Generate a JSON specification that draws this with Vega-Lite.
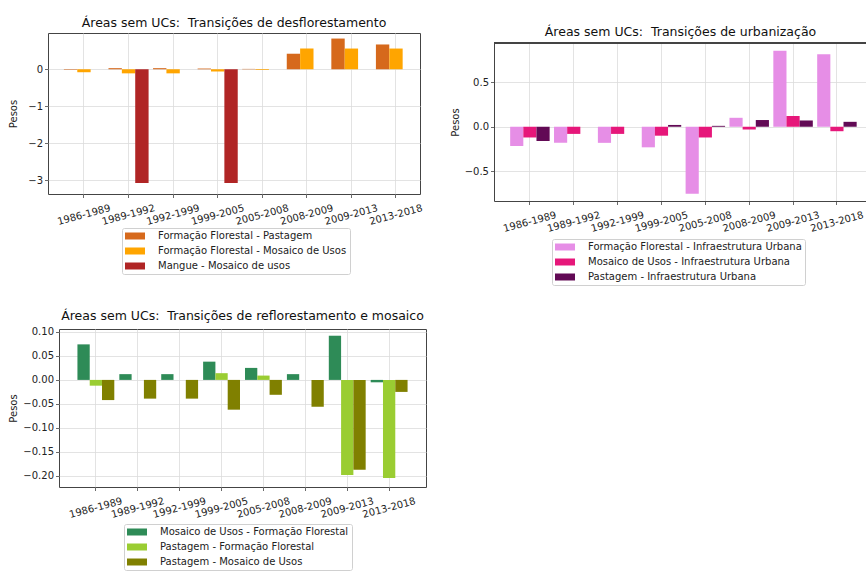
{
  "$schema": "https://vega.github.io/schema/vega-lite/v6.json",
  "background": "white",
  "padding": {"left": 8, "top": 16, "right": 0, "bottom": 0},
  "config": {
    "font": "DejaVu Sans",
    "view": {"stroke": "#444", "strokeWidth": 1},
    "title": {"font": "DejaVu Sans", "fontSize": 12.5, "fontWeight": "normal", "color": "#111", "offset": 4},
    "axis": {
      "labelFont": "DejaVu Sans", "labelFontSize": 10, "labelColor": "#222",
      "titleFont": "DejaVu Sans", "titleFontSize": 10, "titleFontWeight": "normal", "titleColor": "#222",
      "grid": true, "gridColor": "#dcdcdc", "gridWidth": 0.8,
      "domain": false, "tickColor": "#444", "tickSize": 3.5, "tickWidth": 0.8,
      "labelOverlap": false
    },
    "axisX": {"labelAngle": -15, "labelAlign": "center", "labelBaseline": "middle", "labelPadding": 17},
    "axisY": {"labelPadding": 2, "titlePadding": 4},
    "legend": {
      "orient": "none", "title": null,
      "symbolType": "M-2,-0.7H2V0.7H-2Z", "symbolSize": 100, "symbolStrokeWidth": 0, "symbolOffset": 5,
      "labelFont": "DejaVu Sans", "labelFontSize": 10, "labelColor": "#222", "labelOffset": 18, "labelLimit": 0,
      "padding": 3, "rowPadding": 5,
      "strokeColor": "#d0d0d0", "fillColor": "white", "cornerRadius": 2
    }
  },
  "vconcat": [
    {
      "hconcat": [
        {
          "width": 372, "height": 161,
          "title": {"text": "Áreas sem UCs:\u00a0 Transições de desflorestamento"},
          "data": {"values": [
            {"periodo": "1986-1989", "serie": "Formação Florestal - Pastagem", "peso": -0.01},
            {"periodo": "1986-1989", "serie": "Formação Florestal - Mosaico de Usos", "peso": -0.08},
            {"periodo": "1986-1989", "serie": "Mangue - Mosaico de usos", "peso": 0},
            {"periodo": "1989-1992", "serie": "Formação Florestal - Pastagem", "peso": 0.03},
            {"periodo": "1989-1992", "serie": "Formação Florestal - Mosaico de Usos", "peso": -0.11},
            {"periodo": "1989-1992", "serie": "Mangue - Mosaico de usos", "peso": -3.07},
            {"periodo": "1992-1999", "serie": "Formação Florestal - Pastagem", "peso": 0.03},
            {"periodo": "1992-1999", "serie": "Formação Florestal - Mosaico de Usos", "peso": -0.11},
            {"periodo": "1992-1999", "serie": "Mangue - Mosaico de usos", "peso": 0},
            {"periodo": "1999-2005", "serie": "Formação Florestal - Pastagem", "peso": 0.02},
            {"periodo": "1999-2005", "serie": "Formação Florestal - Mosaico de Usos", "peso": -0.06},
            {"periodo": "1999-2005", "serie": "Mangue - Mosaico de usos", "peso": -3.07},
            {"periodo": "2005-2008", "serie": "Formação Florestal - Pastagem", "peso": 0.01},
            {"periodo": "2005-2008", "serie": "Formação Florestal - Mosaico de Usos", "peso": -0.02},
            {"periodo": "2005-2008", "serie": "Mangue - Mosaico de usos", "peso": 0},
            {"periodo": "2008-2009", "serie": "Formação Florestal - Pastagem", "peso": 0.42},
            {"periodo": "2008-2009", "serie": "Formação Florestal - Mosaico de Usos", "peso": 0.56},
            {"periodo": "2008-2009", "serie": "Mangue - Mosaico de usos", "peso": 0},
            {"periodo": "2009-2013", "serie": "Formação Florestal - Pastagem", "peso": 0.83},
            {"periodo": "2009-2013", "serie": "Formação Florestal - Mosaico de Usos", "peso": 0.56},
            {"periodo": "2009-2013", "serie": "Mangue - Mosaico de usos", "peso": 0},
            {"periodo": "2013-2018", "serie": "Formação Florestal - Pastagem", "peso": 0.67},
            {"periodo": "2013-2018", "serie": "Formação Florestal - Mosaico de Usos", "peso": 0.56},
            {"periodo": "2013-2018", "serie": "Mangue - Mosaico de usos", "peso": 0}
          ]},
          "mark": {"type": "bar"},
          "encoding": {
            "x": {"field": "periodo", "type": "nominal", "sort": null, "title": null,
                  "scale": {"paddingInner": 0.1, "paddingOuter": 0.223, "align": 0.8}},
            "xOffset": {"field": "serie", "type": "nominal", "sort": ["Formação Florestal - Pastagem", "Formação Florestal - Mosaico de Usos", "Mangue - Mosaico de usos"], "scale": {"paddingInner": 0, "paddingOuter": 0}},
            "y": {"field": "peso", "type": "quantitative",
                  "scale": {"domain": [-3.37, 0.98], "nice": false},
                  "axis": {"title": "Pesos", "titlePadding": 9, "values": [-3, -2, -1, 0], "labelExpr": "replace(format(datum.value, '.0f'), '-', '\u2212')"}},
            "color": {"field": "serie", "type": "nominal",
                      "scale": {"domain": ["Formação Florestal - Pastagem", "Formação Florestal - Mosaico de Usos", "Mangue - Mosaico de usos"], "range": ["#d6691c", "#ffa500", "#b02525"]},
                      "legend": {"legendX": 74, "legendY": 195}}
          }
        },
        {
          "vconcat": [
            {
              "width": 1, "height": 1,
              "view": {"stroke": null},
              "data": {"values": [{"periodo": "", "peso": 0}]},
              "mark": {"type": "point", "opacity": 0},
              "encoding": {}
            },
            {
              "width": 373, "height": 158,
              "title": {"text": "Áreas sem UCs:\u00a0 Transições de urbanização"},
              "view": {"stroke": null},
              "data": {"values": [
                {"periodo": "1986-1989", "serie": "Formação Florestal - Infraestrutura Urbana", "peso": -0.215},
                {"periodo": "1986-1989", "serie": "Mosaico de Usos - Infraestrutura Urbana", "peso": -0.12},
                {"periodo": "1986-1989", "serie": "Pastagem - Infraestrutura Urbana", "peso": -0.16},
                {"periodo": "1989-1992", "serie": "Formação Florestal - Infraestrutura Urbana", "peso": -0.18},
                {"periodo": "1989-1992", "serie": "Mosaico de Usos - Infraestrutura Urbana", "peso": -0.08},
                {"periodo": "1989-1992", "serie": "Pastagem - Infraestrutura Urbana", "peso": 0},
                {"periodo": "1992-1999", "serie": "Formação Florestal - Infraestrutura Urbana", "peso": -0.18},
                {"periodo": "1992-1999", "serie": "Mosaico de Usos - Infraestrutura Urbana", "peso": -0.08},
                {"periodo": "1992-1999", "serie": "Pastagem - Infraestrutura Urbana", "peso": 0},
                {"periodo": "1999-2005", "serie": "Formação Florestal - Infraestrutura Urbana", "peso": -0.23},
                {"periodo": "1999-2005", "serie": "Mosaico de Usos - Infraestrutura Urbana", "peso": -0.1},
                {"periodo": "1999-2005", "serie": "Pastagem - Infraestrutura Urbana", "peso": 0.02},
                {"periodo": "2005-2008", "serie": "Formação Florestal - Infraestrutura Urbana", "peso": -0.75},
                {"periodo": "2005-2008", "serie": "Mosaico de Usos - Infraestrutura Urbana", "peso": -0.12},
                {"periodo": "2005-2008", "serie": "Pastagem - Infraestrutura Urbana", "peso": 0.01},
                {"periodo": "2008-2009", "serie": "Formação Florestal - Infraestrutura Urbana", "peso": 0.1},
                {"periodo": "2008-2009", "serie": "Mosaico de Usos - Infraestrutura Urbana", "peso": -0.03},
                {"periodo": "2008-2009", "serie": "Pastagem - Infraestrutura Urbana", "peso": 0.075},
                {"periodo": "2009-2013", "serie": "Formação Florestal - Infraestrutura Urbana", "peso": 0.85},
                {"periodo": "2009-2013", "serie": "Mosaico de Usos - Infraestrutura Urbana", "peso": 0.12},
                {"periodo": "2009-2013", "serie": "Pastagem - Infraestrutura Urbana", "peso": 0.07},
                {"periodo": "2013-2018", "serie": "Formação Florestal - Infraestrutura Urbana", "peso": 0.81},
                {"periodo": "2013-2018", "serie": "Mosaico de Usos - Infraestrutura Urbana", "peso": -0.05},
                {"periodo": "2013-2018", "serie": "Pastagem - Infraestrutura Urbana", "peso": 0.055}
              ]},
              "layer": [
                {
                  "mark": {"type": "bar"},
                  "encoding": {
                    "x": {"field": "periodo", "type": "nominal", "sort": null, "title": null,
                          "scale": {"paddingInner": 0.1, "paddingOuter": 0.302, "align": 0.61},
                          "axis": {"domain": true, "domainColor": "#444", "domainWidth": 1}},
                    "xOffset": {"field": "serie", "type": "nominal", "sort": ["Formação Florestal - Infraestrutura Urbana", "Mosaico de Usos - Infraestrutura Urbana", "Pastagem - Infraestrutura Urbana"], "scale": {"paddingInner": 0, "paddingOuter": 0}},
                    "y": {"field": "peso", "type": "quantitative",
                          "scale": {"domain": [-0.83, 0.936], "nice": false},
                          "axis": {"title": "Pesos", "values": [-0.5, 0, 0.5], "domain": true, "domainColor": "#444", "domainWidth": 1, "labelExpr": "replace(format(datum.value, '.1f'), '-', '\u2212')"}},
                    "color": {"field": "serie", "type": "nominal",
                              "scale": {"domain": ["Formação Florestal - Infraestrutura Urbana", "Mosaico de Usos - Infraestrutura Urbana", "Pastagem - Infraestrutura Urbana"], "range": ["#e68ee6", "#e6177a", "#620a55"]},
                              "legend": {"legendX": 58, "legendY": 206}}
                  }
                },
                {
                  "mark": {"type": "rule", "color": "#444", "strokeWidth": 1},
                  "encoding": {"y": {"datum": 0.936}}
                }
              ]
            }
          ],
          "bounds": "flush",
          "spacing": 9
        }
      ],
      "spacing": 26,
      "resolve": {"scale": {"color": "independent", "x": "independent", "y": "independent", "xOffset": "independent"}}
    },
    {
      "hconcat": [
        {
          "width": 1, "height": 1,
          "view": {"stroke": null},
          "data": {"values": [{"periodo": "", "peso": 0}]},
          "mark": {"type": "point", "opacity": 0},
          "encoding": {}
        },
        {
          "width": 367, "height": 158,
          "title": {"text": "Áreas sem UCs:\u00a0 Transições de reflorestamento e mosaico"},
          "data": {"values": [
            {"periodo": "1986-1989", "serie": "Mosaico de Usos - Formação Florestal", "peso": 0.074},
            {"periodo": "1986-1989", "serie": "Pastagem - Formação Florestal", "peso": -0.012},
            {"periodo": "1986-1989", "serie": "Pastagem - Mosaico de Usos", "peso": -0.042},
            {"periodo": "1989-1992", "serie": "Mosaico de Usos - Formação Florestal", "peso": 0.012},
            {"periodo": "1989-1992", "serie": "Pastagem - Formação Florestal", "peso": 0},
            {"periodo": "1989-1992", "serie": "Pastagem - Mosaico de Usos", "peso": -0.039},
            {"periodo": "1992-1999", "serie": "Mosaico de Usos - Formação Florestal", "peso": 0.012},
            {"periodo": "1992-1999", "serie": "Pastagem - Formação Florestal", "peso": 0},
            {"periodo": "1992-1999", "serie": "Pastagem - Mosaico de Usos", "peso": -0.039},
            {"periodo": "1999-2005", "serie": "Mosaico de Usos - Formação Florestal", "peso": 0.038},
            {"periodo": "1999-2005", "serie": "Pastagem - Formação Florestal", "peso": 0.014},
            {"periodo": "1999-2005", "serie": "Pastagem - Mosaico de Usos", "peso": -0.062},
            {"periodo": "2005-2008", "serie": "Mosaico de Usos - Formação Florestal", "peso": 0.025},
            {"periodo": "2005-2008", "serie": "Pastagem - Formação Florestal", "peso": 0.009},
            {"periodo": "2005-2008", "serie": "Pastagem - Mosaico de Usos", "peso": -0.031},
            {"periodo": "2008-2009", "serie": "Mosaico de Usos - Formação Florestal", "peso": 0.012},
            {"periodo": "2008-2009", "serie": "Pastagem - Formação Florestal", "peso": 0},
            {"periodo": "2008-2009", "serie": "Pastagem - Mosaico de Usos", "peso": -0.056},
            {"periodo": "2009-2013", "serie": "Mosaico de Usos - Formação Florestal", "peso": 0.092},
            {"periodo": "2009-2013", "serie": "Pastagem - Formação Florestal", "peso": -0.198},
            {"periodo": "2009-2013", "serie": "Pastagem - Mosaico de Usos", "peso": -0.187},
            {"periodo": "2013-2018", "serie": "Mosaico de Usos - Formação Florestal", "peso": -0.005},
            {"periodo": "2013-2018", "serie": "Pastagem - Formação Florestal", "peso": -0.204},
            {"periodo": "2013-2018", "serie": "Pastagem - Mosaico de Usos", "peso": -0.025}
          ]},
          "mark": {"type": "bar"},
          "encoding": {
            "x": {"field": "periodo", "type": "nominal", "sort": null, "title": null,
                  "scale": {"paddingInner": 0.12, "paddingOuter": 0.44, "align": 0.5}},
            "xOffset": {"field": "serie", "type": "nominal", "sort": ["Mosaico de Usos - Formação Florestal", "Pastagem - Formação Florestal", "Pastagem - Mosaico de Usos"], "scale": {"paddingInner": 0, "paddingOuter": 0}},
            "y": {"field": "peso", "type": "quantitative",
                  "scale": {"domain": [-0.223, 0.106], "nice": false},
                  "axis": {"title": "Pesos", "values": [-0.2, -0.15, -0.1, -0.05, 0, 0.05, 0.1], "labelExpr": "replace(format(datum.value, '.2f'), '-', '\u2212')"}},
            "color": {"field": "serie", "type": "nominal",
                      "scale": {"domain": ["Mosaico de Usos - Formação Florestal", "Pastagem - Formação Florestal", "Pastagem - Mosaico de Usos"], "range": ["#2e8b57", "#9acd32", "#808000"]},
                      "legend": {"legendX": 76, "legendY": 195}}
          }
        }
      ],
      "bounds": "flush",
      "spacing": 10
    }
  ],
  "spacing": 23,
  "resolve": {"scale": {"color": "independent", "x": "independent", "y": "independent", "xOffset": "independent"}}
}
